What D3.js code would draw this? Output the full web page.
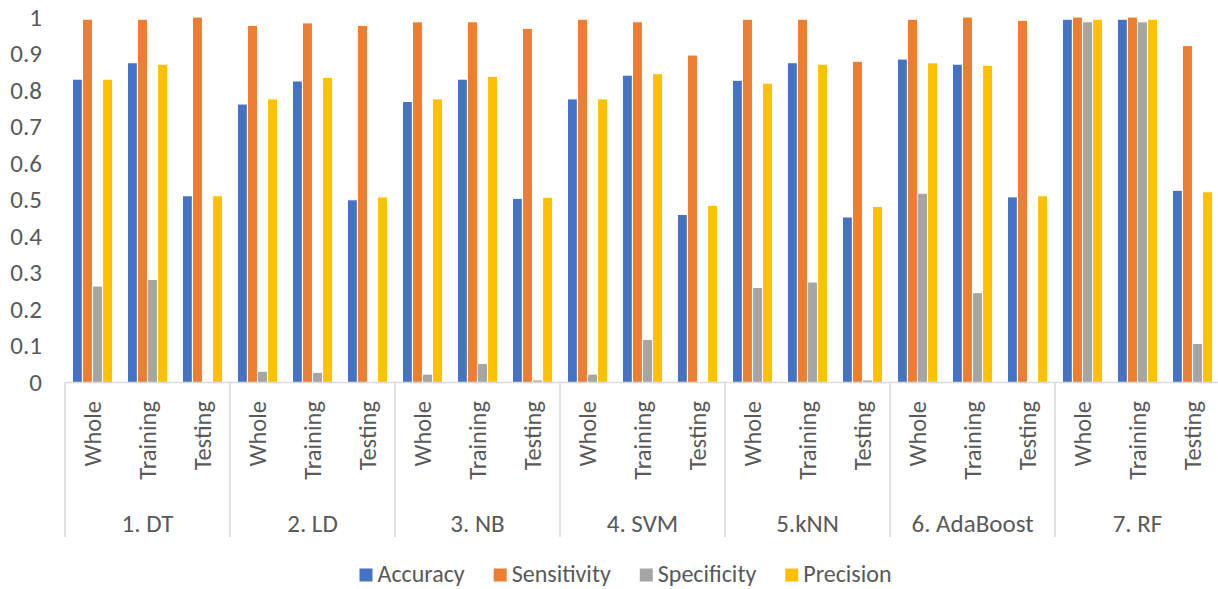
<!DOCTYPE html>
<html>
<head>
<meta charset="utf-8">
<script src="https://cdn.jsdelivr.net/npm/d3@7"></script>
<style>
  html, body { margin: 0; padding: 0; background: #fff; }
  svg { display: block; }
  text { font-family: Carlito, Lato, "Open Sans", sans-serif; fill: #595959; }
</style>
</head>
<body>
<svg id="chart" width="1218" height="589"></svg>
<script>
// Models and data subsets
const models = ["1. DT", "2. LD", "3. NB", "4. SVM", "5.kNN", "6. AdaBoost", "7. RF"];
const subsets = ["Whole", "Training", "Testing"];
const seriesNames = ["Accuracy", "Sensitivity", "Specificity", "Precision"];
const seriesColors = ["#4472C4", "#ED7D31", "#A5A5A5", "#FFC000"];

// One value per model × subset (Whole, Training, Testing), model order as above
const accuracy = [
  0.830, 0.875, 0.511,
  0.762, 0.825, 0.500,
  0.769, 0.830, 0.504,
  0.776, 0.841, 0.460,
  0.827, 0.875, 0.453,
  0.885, 0.871, 0.508,
  0.994, 0.994, 0.526
];
const sensitivity = [
  0.994, 0.994, 1.000,
  0.977, 0.984, 0.977,
  0.987, 0.987, 0.969,
  0.994, 0.987, 0.896,
  0.994, 0.994, 0.879,
  0.994, 1.000, 0.991,
  1.000, 1.000, 0.922
];
const specificity = [
  0.264, 0.282, 0.000,
  0.031, 0.028, 0.000,
  0.023, 0.052, 0.007,
  0.023, 0.118, 0.000,
  0.260, 0.275, 0.007,
  0.518, 0.246, 0.000,
  0.987, 0.987, 0.107
];
const precision = [
  0.830, 0.871, 0.511,
  0.776, 0.835, 0.508,
  0.776, 0.838, 0.507,
  0.776, 0.845, 0.485,
  0.819, 0.871, 0.482,
  0.875, 0.868, 0.511,
  0.994, 0.994, 0.522
];
const yTicks = [0, 0.1, 0.2, 0.3, 0.4, 0.5, 0.6, 0.7, 0.8, 0.9, 1];

const seriesValues = [accuracy, sensitivity, specificity, precision];

// Flattened categories: one per model/subset pair
const categories = [];
models.forEach((m, gi) => subsets.forEach((s, si) => {
  const idx = gi * subsets.length + si;
  categories.push({
    key: m + "|" + s, model: m, subset: s,
    values: seriesNames.map((name, k) => ({ name, color: seriesColors[k], value: seriesValues[k][idx] }))
  });
}));

const svg = d3.select("#chart");
const plotLeft = 65, plotRight = 1220, plotTop = 17, plotBottom = 382.5;

const x0 = d3.scaleBand().domain(categories.map(d => d.key)).range([plotLeft, plotRight]).padding(0);
const xg = d3.scaleBand().domain(models).range([plotLeft, plotRight]).padding(0);
const bw = x0.bandwidth();
const x1 = d3.scaleBand().domain(seriesNames).range([bw * 0.135, bw * 0.865]).padding(0);
const y = d3.scaleLinear().domain([0, 1]).range([plotBottom, plotTop]);

// Y axis labels (no axis line, no gridlines)
const yAxis = d3.axisLeft(y).tickValues(yTicks).tickFormat(d3.format("~g")).tickSize(0).tickPadding(0);
const yG = svg.append("g").attr("transform", "translate(42,0)").call(yAxis);
yG.select(".domain").remove();
yG.selectAll("text").style("font-size", "25px").style("font-family", null).attr("fill", "#595959");

// Bars
const catG = svg.append("g").selectAll("g").data(categories).join("g")
  .attr("transform", d => `translate(${x0(d.key)},0)`);
catG.selectAll("rect").data(d => d.values).join("rect")
  .attr("x", d => x1(d.name))
  .attr("width", x1.bandwidth())
  .attr("y", d => y(d.value))
  .attr("height", d => y(0) - y(d.value))
  .attr("fill", d => d.color)
  .attr("stroke", "#fff")
  .attr("stroke-width", 1.1);

// Category axis line
svg.append("line")
  .attr("x1", plotLeft).attr("x2", plotRight)
  .attr("y1", plotBottom).attr("y2", plotBottom)
  .attr("stroke", "#d9d9d9").attr("stroke-width", 1.5);

// Group separators spanning both label levels
const sepBottom = 537;
svg.append("g").selectAll("line").data(models.concat(["__end"])).join("line")
  .attr("x1", (d, i) => i < models.length ? xg(d) : plotRight)
  .attr("x2", (d, i) => i < models.length ? xg(d) : plotRight)
  .attr("y1", plotBottom).attr("y2", sepBottom)
  .attr("stroke", "#d9d9d9").attr("stroke-width", 1.5);

// Subset labels (rotated)
svg.append("g").selectAll("text").data(categories).join("text")
  .attr("transform", d => `translate(${x0(d.key) + bw / 2},401) rotate(-90)`)
  .attr("text-anchor", "end")
  .attr("dominant-baseline", "central")
  .style("font-size", "24.5px")
  .text(d => d.subset);

// Model labels
svg.append("g").selectAll("text").data(models).join("text")
  .attr("x", d => xg(d) + xg.bandwidth() / 2)
  .attr("y", 523)
  .attr("text-anchor", "middle")
  .attr("dominant-baseline", "central")
  .style("font-size", "25px")
  .text(d => d);

// Legend
const legend = svg.append("g");
const items = legend.selectAll("g").data(seriesNames).join("g");
items.append("rect").attr("width", 13).attr("height", 13).attr("y", -6.5)
  .attr("fill", (d, i) => seriesColors[i]);
items.append("text").attr("x", 18).attr("y", 7)
  .style("font-size", "24px").text(d => d);
let cx = 0;
const gap = 29;
items.each(function () {
  const g = d3.select(this);
  g.attr("transform", `translate(${cx},0)`);
  cx += 18 + g.select("text").node().getComputedTextLength() + gap;
});
const totalW = cx - gap;
legend.attr("transform", `translate(${625.5 - totalW / 2},575)`);
</script>
</body>
</html>
